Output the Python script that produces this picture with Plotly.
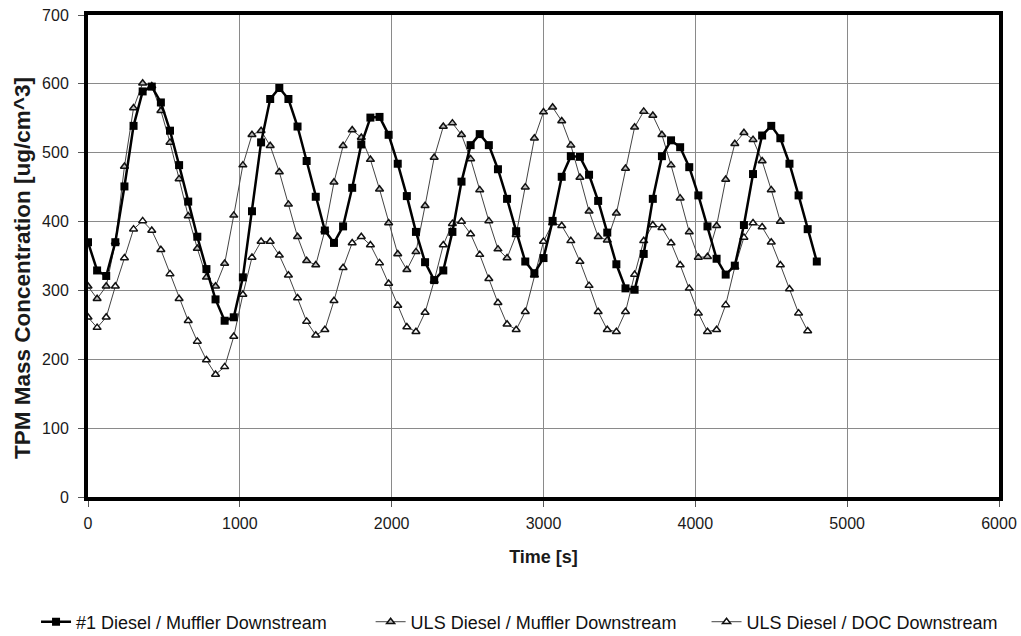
import plotly.graph_objects as go

TIME = [0, 60, 120, 180, 240, 300, 360, 420, 480, 540, 600, 660, 720, 780, 840, 900, 960, 1020,
        1080, 1140, 1200, 1260, 1320, 1380, 1440, 1500, 1560, 1620, 1680, 1740, 1800, 1860, 1920,
        1980, 2040, 2100, 2160, 2220, 2280, 2340, 2400, 2460, 2520, 2580, 2640, 2700, 2760, 2820,
        2880, 2940, 3000, 3060, 3120, 3180, 3240, 3300, 3360, 3420, 3480, 3540, 3600, 3660, 3720,
        3780, 3840, 3900, 3960, 4020, 4080, 4140, 4200, 4260, 4320, 4380, 4440, 4500, 4560, 4620,
        4680, 4740, 4800]

DIESEL1_MUFFLER = [370, 329, 321, 370, 451, 539, 589, 596, 573, 532, 482, 429, 378, 331, 287, 256,
                   261, 319, 415, 515, 578, 594, 578, 538, 488, 436, 387, 369, 393, 449, 512, 551,
                   552, 526, 484, 437, 385, 341, 315, 329, 385, 458, 511, 527, 511, 476, 433, 386,
                   342, 325, 347, 401, 465, 495, 494, 468, 430, 384, 338, 303, 301, 353, 433, 495,
                   518, 508, 479, 438, 393, 346, 323, 336, 395, 469, 525, 539, 521, 484, 438, 389,
                   342]

ULS_MUFFLER = [306, 288, 306, 370, 480, 565, 601, 597, 561, 515, 462, 408, 361, 319, 306, 339,
               409, 482, 526, 532, 510, 472, 425, 378, 343, 337, 387, 457, 510, 533, 522, 490,
               447, 398, 353, 330, 356, 423, 493, 538, 543, 526, 491, 446, 401, 360, 347, 381,
               450, 521, 559, 566, 546, 511, 464, 415, 378, 373, 412, 477, 537, 560, 554, 526,
               482, 434, 385, 348, 349, 394, 461, 513, 529, 519, 488, 446, 400]

ULS_DOC = [261, 246, 261, 306, 347, 389, 401, 387, 359, 324, 288, 256, 226, 199, 178, 189,
           233, 294, 348, 371, 371, 351, 322, 289, 255, 235, 243, 285, 333, 369, 378, 366,
           340, 310, 278, 247, 240, 268, 314, 366, 397, 400, 382, 352, 317, 282, 251, 243,
           269, 322, 371, 398, 394, 372, 342, 307, 269, 243, 240, 269, 323, 372, 395, 391,
           369, 337, 303, 267, 240, 243, 279, 334, 377, 398, 392, 370, 337, 302, 267, 241]

NAMES = ["#1 Diesel / Muffler Downstream", "ULS Diesel / Muffler Downstream",
         "ULS Diesel / DOC Downstream"]
X_TITLE = "Time [s]"
Y_TITLE = "TPM Mass Concentration [ug/cm^3]"

fig = go.Figure()
fig.add_trace(go.Scatter(
    x=TIME[:len(ULS_MUFFLER)], y=ULS_MUFFLER, name=NAMES[1], mode="lines+markers",
    line=dict(color="#444444", width=1),
    marker=dict(symbol="triangle-up", size=7, color="#bdbdbd", line=dict(color="#111111", width=1.5)),
    legend="legend2"))
fig.add_trace(go.Scatter(
    x=TIME[:len(ULS_DOC)], y=ULS_DOC, name=NAMES[2], mode="lines+markers",
    line=dict(color="#444444", width=1),
    marker=dict(symbol="triangle-up", size=7, color="#ffffff", line=dict(color="#111111", width=1.5)),
    legend="legend3"))
fig.add_trace(go.Scatter(
    x=TIME[:len(DIESEL1_MUFFLER)], y=DIESEL1_MUFFLER, name=NAMES[0], mode="lines+markers",
    line=dict(color="#000000", width=2.5),
    marker=dict(symbol="square", size=8, color="#000000"),
    legend="legend"))

legend_font = dict(family="Arial, Liberation Sans, sans-serif", size=18, color="#111111")
common = dict(orientation="h", xanchor="left", xref="container", y=0.022, yanchor="middle",
              yref="container", font=legend_font, itemwidth=30, bgcolor="rgba(0,0,0,0)")

fig.update_layout(
    width=1021, height=636,
    margin=dict(l=88, r=22, t=15, b=139, autoexpand=False),
    paper_bgcolor="white", plot_bgcolor="white",
    font=dict(family="Arial, Liberation Sans, sans-serif", size=16, color="#1a1a1a"),
    showlegend=True,
    legend=dict(x=0.0353, **common),
    legend2=dict(x=0.363, **common),
    legend3=dict(x=0.692, **common),
    xaxis=dict(range=[0, 6000], dtick=1000, tick0=0, showgrid=True, gridcolor="#8a8a8a",
               gridwidth=1, showline=True, mirror=True, linecolor="black", linewidth=4,
               ticks="outside", ticklen=6, tickcolor="#555555", zeroline=False, automargin=False,
               tickfont=dict(size=16), ticklabelstandoff=3,
               title=dict(text="<b>" + X_TITLE + "</b>", font=dict(size=18, color="#1a1a1a"),
                          standoff=20)),
    yaxis=dict(range=[0, 700], dtick=100, tick0=0, showgrid=True, gridcolor="#8a8a8a",
               gridwidth=1, showline=True, mirror=True, linecolor="black", linewidth=4,
               ticks="outside", ticklen=6, tickcolor="#555555", zeroline=False, automargin=False,
               tickfont=dict(size=16), ticklabelstandoff=6),
    annotations=[dict(text="<b>" + Y_TITLE + "</b>", textangle=-90, showarrow=False,
                      xref="paper", yref="paper", x=(22 - 88) / 911, y=(497 - 268) / 482,
                      xanchor="center", yanchor="middle",
                      font=dict(size=22.5, color="#1a1a1a"))],
)

fig.write_html("out.html")
